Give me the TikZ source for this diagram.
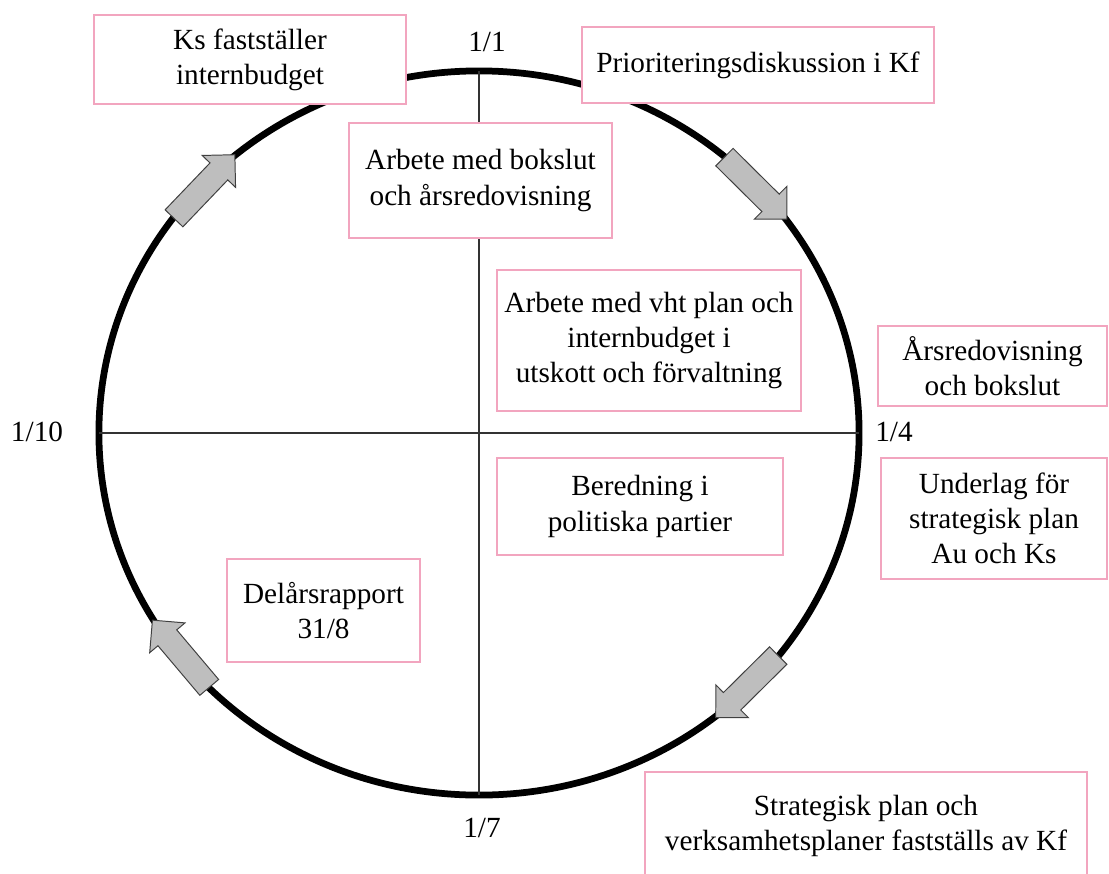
\documentclass[tikz,border=0pt]{standalone}
\usepackage{fontspec}
\setmainfont{Liberation Serif}
\usepackage[HTML]{xcolor}
\usetikzlibrary{positioning, shapes.geometric, shapes.arrows}

\definecolor{boxpink}{HTML}{F2A5BF}
\definecolor{arrowgray}{HTML}{BEBEBE}

\begin{document}
\begin{tikzpicture}[x=0.025cm, y=-0.025cm,
  every node/.style={font=\fontsize{20.8}{25}\selectfont},
  ring/.style={draw, ellipse, line width=4.8pt, minimum width=19cm, minimum height=18.1cm, inner sep=0pt, outer sep=0pt},
  cross/.style={line width=1.4pt, black!80},
  card/.style 2 args={draw=boxpink, line width=1.5pt, fill=white, align=center, inner sep=2pt, minimum width=#1*0.025cm, minimum height=#2*0.025cm},
  flow/.style={single arrow, draw=black!75, fill=arrowgray, line width=0.7pt, minimum height=2.2cm, minimum width=1.13cm, inner xsep=0pt, inner ysep=0.295cm, single arrow head extend=0.27cm, sloped, allow upside down}]

\useasboundingbox (0,0) rectangle (1109,873);

% --- year wheel ---
\node[ring] (ring) at (479,433) {};
\draw[cross] (ring.north) -- (ring.south);
\draw[cross] (ring.west) -- (ring.east);

% --- dates ---
\node (jan) at (487,42) {1/1};
\node (apr) at (894,432) {1/4};
\node (jul) at (482,828) {1/7};
\node (okt) at (37,432) {1/10};

% --- flow arrows (clockwise) ---
\path (ring.146) -- node[flow] (flownw) {} (ring.132);
\path (ring.49) -- node[flow] (flowne) {} (ring.36);
\path (ring.-36) -- node[flow] (flowse) {} (ring.-49);
\path (ring.-136) -- node[flow] (flowsw) {} (ring.-149);

% --- activities ---
\node[card={312}{89}] (ks) at (250,59.5) {Ks fastställer\\internbudget};
\node[card={352}{76}] (prio) at (758,65) {Prioriteringsdiskussion i Kf};
\node[card={263}{115}] (bokslut) at (480.5,180.5) {Arbete med bokslut\\och årsredovisning};
\node[card={304}{141}] (vht) at (649,340.5) {Arbete med vht plan och\\internbudget i\\utskott och förvaltning};
\node[card={229}{80}] (ars) at (992.5,366) {Årsredovisning\\och bokslut};
\node[card={226}{121}] (underlag) at (994,518.5) {Underlag för\\strategisk plan\\Au och Ks};
\node[card={286}{97}] (beredning) at (640,506.5) {Beredning i\\politiska partier};
\node[card={193}{103}] (delars) at (323.5,610.5) {Delårsrapport\\31/8};
\node[card={442}{108}] (strategi) at (866,826) {Strategisk plan och\\verksamhetsplaner fastställs av Kf};
\end{tikzpicture}
\end{document}
